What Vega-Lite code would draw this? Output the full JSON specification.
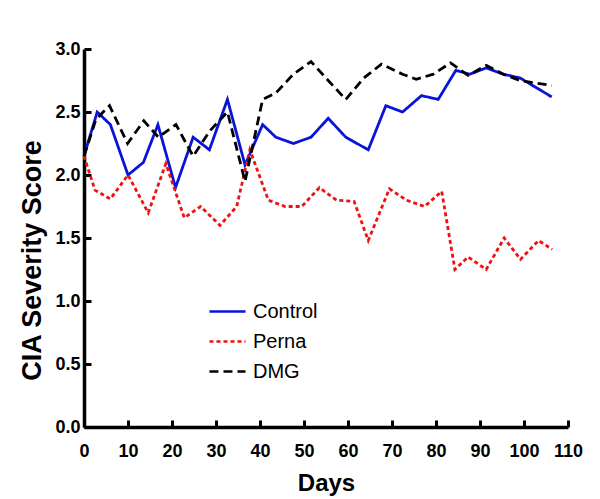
{
  "$schema": "https://vega.github.io/schema/vega-lite/v6.json",
  "description": "CIA severity score over time",
  "width": 484,
  "height": 378,
  "autosize": {"type": "none"},
  "padding": {"left": 84, "top": 49, "right": 32, "bottom": 72},
  "background": "white",
  "config": {
    "view": {"stroke": null},
    "font": "Liberation Sans"
  },
  "data": {
    "values": [
      {"group": "Control", "day": 0, "score": 2.15},
      {"group": "Control", "day": 3, "score": 2.5},
      {"group": "Control", "day": 6, "score": 2.4},
      {"group": "Control", "day": 10, "score": 2.0},
      {"group": "Control", "day": 13.5, "score": 2.1},
      {"group": "Control", "day": 16.8, "score": 2.4},
      {"group": "Control", "day": 20.8, "score": 1.9},
      {"group": "Control", "day": 24.8, "score": 2.3},
      {"group": "Control", "day": 28.5, "score": 2.2},
      {"group": "Control", "day": 32.6, "score": 2.6},
      {"group": "Control", "day": 36.6, "score": 2.08},
      {"group": "Control", "day": 40.6, "score": 2.4},
      {"group": "Control", "day": 43.6, "score": 2.3},
      {"group": "Control", "day": 47.6, "score": 2.25},
      {"group": "Control", "day": 51.6, "score": 2.3},
      {"group": "Control", "day": 55.5, "score": 2.45},
      {"group": "Control", "day": 59.5, "score": 2.3},
      {"group": "Control", "day": 64.6, "score": 2.2},
      {"group": "Control", "day": 68.6, "score": 2.55},
      {"group": "Control", "day": 72.4, "score": 2.5},
      {"group": "Control", "day": 76.7, "score": 2.63},
      {"group": "Control", "day": 80.5, "score": 2.6},
      {"group": "Control", "day": 84.5, "score": 2.83},
      {"group": "Control", "day": 87.7, "score": 2.8},
      {"group": "Control", "day": 91.4, "score": 2.85},
      {"group": "Control", "day": 95.3, "score": 2.8},
      {"group": "Control", "day": 99.1, "score": 2.77},
      {"group": "Control", "day": 106.3, "score": 2.62},
      {"group": "Perna", "day": 0, "score": 2.15},
      {"group": "Perna", "day": 2.5, "score": 1.88},
      {"group": "Perna", "day": 6, "score": 1.81},
      {"group": "Perna", "day": 10, "score": 2.0},
      {"group": "Perna", "day": 14.6, "score": 1.7},
      {"group": "Perna", "day": 18.6, "score": 2.09},
      {"group": "Perna", "day": 22.8, "score": 1.66},
      {"group": "Perna", "day": 26.5, "score": 1.75},
      {"group": "Perna", "day": 30.9, "score": 1.6},
      {"group": "Perna", "day": 34.7, "score": 1.75},
      {"group": "Perna", "day": 37.7, "score": 2.2},
      {"group": "Perna", "day": 41.9, "score": 1.8},
      {"group": "Perna", "day": 45.7, "score": 1.75},
      {"group": "Perna", "day": 49.5, "score": 1.75},
      {"group": "Perna", "day": 53.5, "score": 1.9},
      {"group": "Perna", "day": 57.4, "score": 1.8},
      {"group": "Perna", "day": 61.4, "score": 1.79},
      {"group": "Perna", "day": 64.6, "score": 1.48},
      {"group": "Perna", "day": 69.4, "score": 1.89},
      {"group": "Perna", "day": 73.3, "score": 1.8},
      {"group": "Perna", "day": 77.4, "score": 1.75},
      {"group": "Perna", "day": 81.3, "score": 1.87},
      {"group": "Perna", "day": 84.3, "score": 1.25},
      {"group": "Perna", "day": 87.3, "score": 1.35},
      {"group": "Perna", "day": 91.4, "score": 1.25},
      {"group": "Perna", "day": 95.5, "score": 1.5},
      {"group": "Perna", "day": 99.2, "score": 1.33},
      {"group": "Perna", "day": 103.3, "score": 1.48},
      {"group": "Perna", "day": 106.4, "score": 1.41},
      {"group": "DMG", "day": 0, "score": 2.15},
      {"group": "DMG", "day": 2.7, "score": 2.44},
      {"group": "DMG", "day": 5.8, "score": 2.55},
      {"group": "DMG", "day": 9.9, "score": 2.25},
      {"group": "DMG", "day": 13.6, "score": 2.43},
      {"group": "DMG", "day": 16.9, "score": 2.3},
      {"group": "DMG", "day": 20.9, "score": 2.4},
      {"group": "DMG", "day": 24.8, "score": 2.15},
      {"group": "DMG", "day": 28.6, "score": 2.35},
      {"group": "DMG", "day": 32.6, "score": 2.5},
      {"group": "DMG", "day": 36.6, "score": 1.95},
      {"group": "DMG", "day": 40.6, "score": 2.6},
      {"group": "DMG", "day": 43.6, "score": 2.65},
      {"group": "DMG", "day": 47.6, "score": 2.8},
      {"group": "DMG", "day": 51.6, "score": 2.9},
      {"group": "DMG", "day": 55.5, "score": 2.75},
      {"group": "DMG", "day": 59.5, "score": 2.6},
      {"group": "DMG", "day": 63.6, "score": 2.77},
      {"group": "DMG", "day": 67.6, "score": 2.88},
      {"group": "DMG", "day": 72.4, "score": 2.8},
      {"group": "DMG", "day": 75.5, "score": 2.76},
      {"group": "DMG", "day": 79.4, "score": 2.8},
      {"group": "DMG", "day": 83.3, "score": 2.89},
      {"group": "DMG", "day": 87.3, "score": 2.79},
      {"group": "DMG", "day": 91.4, "score": 2.87},
      {"group": "DMG", "day": 95.3, "score": 2.8},
      {"group": "DMG", "day": 99.1, "score": 2.75},
      {"group": "DMG", "day": 106.3, "score": 2.71}
    ]
  },
  "mark": {"type": "line", "strokeWidth": 2.8, "clip": false},
  "encoding": {
    "x": {
      "field": "day",
      "type": "quantitative",
      "title": "Days",
      "scale": {"domain": [0, 110], "nice": false, "zero": false},
      "axis": {
        "values": [0, 10, 20, 30, 40, 50, 60, 70, 80, 90, 100, 110],
        "grid": false,
        "domainColor": "black",
        "domainWidth": 3.5,
        "tickColor": "black",
        "tickWidth": 3,
        "tickSize": -7,
        "labelPadding": 22,
        "labelFont": "Liberation Sans",
        "labelFontWeight": "bold",
        "labelFontSize": 18,
        "labelColor": "black",
        "labelFlush": false,
        "labelOverlap": false,
        "titleFont": "Liberation Sans",
        "titleFontWeight": "bold",
        "titleFontSize": 24,
        "titleColor": "black",
        "titlePadding": 11
      }
    },
    "y": {
      "field": "score",
      "type": "quantitative",
      "title": "CIA Severity Score",
      "scale": {"domain": [0, 3], "nice": false},
      "axis": {
        "values": [0, 0.5, 1, 1.5, 2, 2.5, 3],
        "format": ".1f",
        "grid": false,
        "domainColor": "black",
        "domainWidth": 3.5,
        "tickColor": "black",
        "tickWidth": 3,
        "tickSize": -7,
        "labelPadding": 11,
        "labelFont": "Liberation Sans",
        "labelFontWeight": "bold",
        "labelFontSize": 18,
        "labelColor": "black",
        "labelFlush": false,
        "labelOverlap": false,
        "titleFont": "Liberation Sans",
        "titleFontWeight": "bold",
        "titleFontSize": 27,
        "titleColor": "black",
        "titlePadding": 8,
        "titleY": 211
      }
    },
    "color": {
      "field": "group",
      "type": "nominal",
      "scale": {"domain": ["Control", "Perna", "DMG"], "range": ["#0a14d8", "#ee1111", "#000000"]},
      "legend": {
        "title": null,
        "orient": "none",
        "legendX": 124,
        "legendY": 243,
        "symbolType": "stroke",
        "symbolSize": 1300,
        "symbolStrokeWidth": 2.5,
        "labelFont": "Liberation Sans",
        "labelFontSize": 20,
        "labelColor": "black",
        "labelOffset": 6,
        "rowPadding": -2
      }
    },
    "strokeDash": {
      "field": "group",
      "type": "nominal",
      "scale": {"domain": ["Control", "Perna", "DMG"], "range": [[1, 0], [4, 3], [9, 5]]},
      "legend": null
    }
  }
}
